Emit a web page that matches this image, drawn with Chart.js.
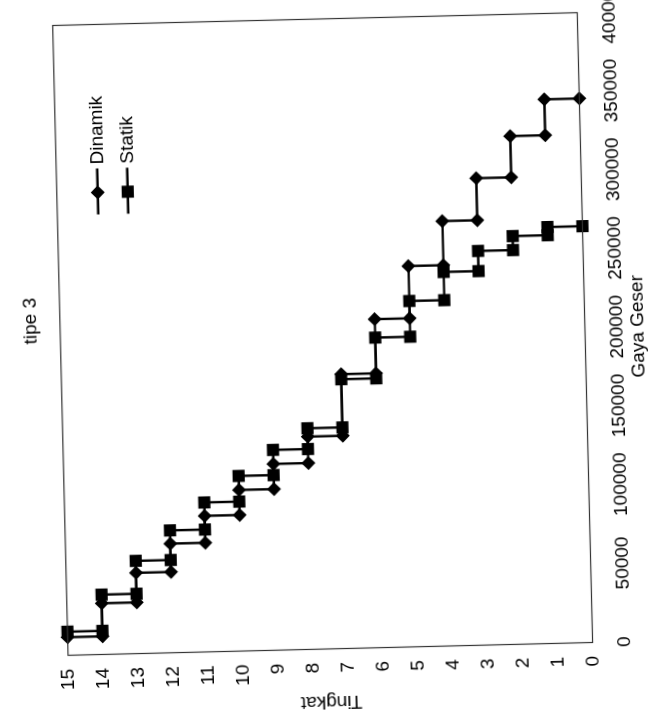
<!DOCTYPE html>
<html>
<head>
<meta charset="utf-8">
<title>tipe 3</title>
<script src="https://cdn.jsdelivr.net/npm/chart.js@4.4.1/dist/chart.umd.min.js"></script>
<style>
  html, body { margin: 0; padding: 0; background: #fff; overflow: hidden; }
  body { width: 653px; height: 716px; position: relative; }
  /* chart is laid out landscape, then turned to stand on its side like the printed page */
  #wrap {
    position: absolute;
    left: -60.5px;
    top: 11.5px;
    width: 760px;
    height: 653px;
    transform-origin: 382.5px 322px;
    transform: rotate(-91.4deg);
  }
</style>
</head>
<body>
<div id="wrap"><canvas id="chart" width="760" height="653"></canvas></div>
<script>
// story levels, top floor first
const tingkat = [15, 14, 13, 12, 11, 10, 9, 8, 7, 6, 5, 4, 3, 2, 1];

// story shear per level
const dinamik = [11500, 32500, 51300, 69300, 86400, 102300, 118300, 135100, 174200, 208600, 241800, 269800, 296500, 322700, 345500];
const statik  = [15000, 38000, 58900, 77700, 94900, 111200, 127200, 140400, 171000, 196900, 219600, 237500, 250300, 259200, 264400];

const gayaMax = 400000;
const gayaStep = 50000;
const tingkatMax = 15;

// each level's shear holds from its floor down to the one below
function steps(values) {
    const pts = [];
    values.forEach((v, i) => {
        pts.push({ x: v, y: tingkat[i] });
        pts.push({ x: v, y: tingkat[i] - 1 });
    });
    return pts;
}

const FONT = "'Liberation Sans', Arial, sans-serif";
Chart.defaults.font.family = FONT;
Chart.defaults.font.size = 19;
Chart.defaults.color = '#000';

function drawMarker(ctx, style, r, x, y) {
    ctx.beginPath();
    if (style === 'rectRot') {
        ctx.moveTo(x - r, y);
        ctx.lineTo(x, y - r);
        ctx.lineTo(x + r, y);
        ctx.lineTo(x, y + r);
    } else {
        const h = r * Math.SQRT1_2;
        ctx.rect(x - h, y - h, 2 * h, 2 * h);
    }
    ctx.closePath();
    ctx.fill();
}

// plot frame + legend sitting inside the plot, upper right
const framePlugin = {
    id: 'frameAndLegend',
    afterLayout(chart) {
        // title sits a little right of the plot centre
        if (chart.titleBlock) {
            chart.titleBlock.left += 20;
            chart.titleBlock.right += 20;
        }
    },
    afterDatasetsDraw(chart) {
        const { ctx, chartArea: a } = chart;
        ctx.save();
        ctx.strokeStyle = '#333';
        ctx.lineWidth = 1.2;
        ctx.strokeRect(a.left, a.top, a.right - a.left, a.bottom - a.top);

        const x0 = a.right - 190;
        let y = a.top + 41;
        chart.data.datasets.forEach(ds => {
            ctx.strokeStyle = '#000';
            ctx.fillStyle = '#000';
            ctx.lineWidth = ds.borderWidth;
            ctx.beginPath();
            ctx.moveTo(x0, y);
            ctx.lineTo(x0 + 46, y);
            ctx.stroke();
            drawMarker(ctx, ds.pointStyle, ds.pointRadius, x0 + 22, y);
            ctx.font = '19px ' + FONT;
            ctx.textBaseline = 'middle';
            ctx.textAlign = 'left';
            ctx.fillText(ds.label, x0 + 50, y + 1);
            y += 30;
        });
        ctx.restore();
    }
};

new Chart(document.getElementById('chart'), {
    type: 'scatter',
    data: {
        datasets: [
            {
                label: 'Dinamik',
                data: steps(dinamik),
                showLine: true,
                borderColor: '#000',
                borderWidth: 2.4,
                pointStyle: 'rectRot',
                pointRadius: 7,
                pointBackgroundColor: '#000',
                pointBorderWidth: 0,
                clip: false
            },
            {
                label: 'Statik',
                data: steps(statik),
                showLine: true,
                borderColor: '#000',
                borderWidth: 2.4,
                pointStyle: 'rect',
                pointRadius: 8.6,
                pointBackgroundColor: '#000',
                pointBorderWidth: 0,
                clip: false
            }
        ]
    },
    options: {
        responsive: false,
        animation: false,
        layout: { padding: { left: 0, top: 0, right: 62.5, bottom: 0 } },
        plugins: {
            legend: { display: false },
            tooltip: { enabled: false },
            title: {
                display: true,
                text: 'tipe 3',
                fullSize: false,
                font: { size: 19, weight: 'normal' },
                padding: { top: 19, bottom: 18 }
            }
        },
        scales: {
            x: {
                type: 'linear',
                min: 0,
                max: gayaMax,
                grid: { display: false, drawTicks: false },
                border: { display: false },
                ticks: {
                    stepSize: gayaStep,
                    padding: 21,
                    maxRotation: 0,
                    autoSkip: false,
                    callback: v => String(v)
                },
                title: { display: true, text: 'Gaya Geser', padding: { top: 0, bottom: 4 } },
                afterFit: s => { s.height = 68.5; s.paddingLeft = 0; s.paddingRight = 0; }
            },
            y: {
                type: 'linear',
                min: 0,
                max: tingkatMax,
                grid: { display: false, drawTicks: false },
                border: { display: false },
                ticks: { stepSize: 1, padding: 13.5, autoSkip: false },
                title: { display: true, text: 'Tingkat', padding: { top: 3, bottom: 0 } },
                afterFit: s => { s.width = 67.5; }
            }
        }
    },
    plugins: [framePlugin]
});
</script>
</body>
</html>
